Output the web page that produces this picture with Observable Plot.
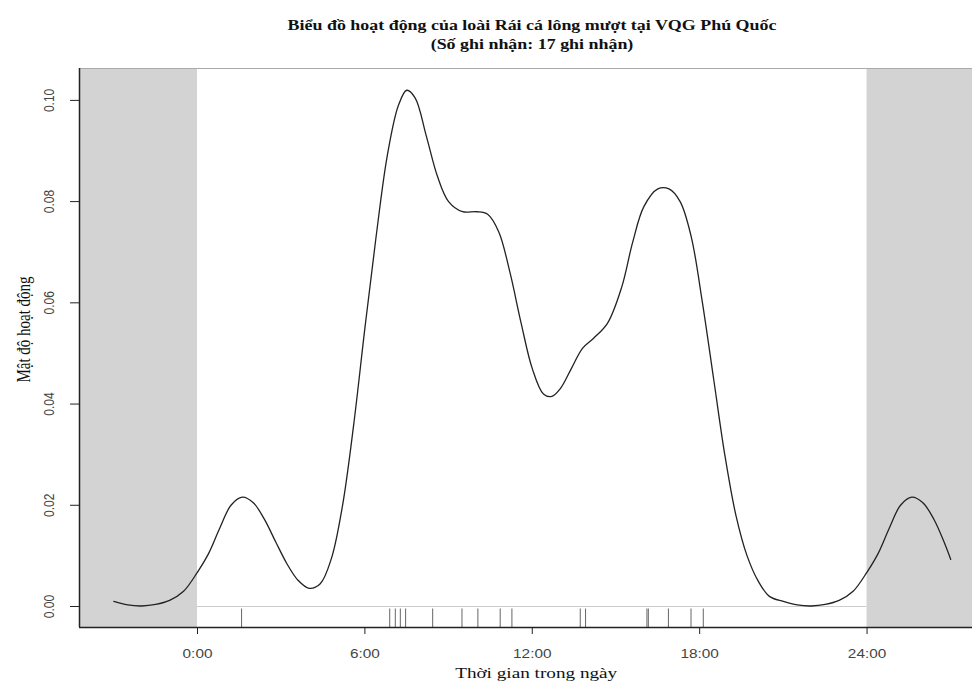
<!DOCTYPE html>
<html>
<head>
<meta charset="utf-8">
<script src="https://cdn.jsdelivr.net/npm/d3@7"></script>
<script src="https://cdn.jsdelivr.net/npm/@observablehq/plot@0.6"></script>
<style>
  html, body { margin: 0; padding: 0; background: #fff; }
  #title { position: relative; width: 972px; height: 50px; font-family: "Liberation Serif", "DejaVu Serif", serif;
           font-size: 14px; font-weight: bold; color: #111; }
  #title div { position: absolute; left: 532px; white-space: nowrap; transform: translate(-50%, -50%) scaleX(1.28); }
</style>
</head>
<body>
<div id="title"><div style="top:26px">Biểu đồ hoạt động của loài Rái cá lông mượt tại VQG Phú Quốc</div><div style="top:45px">(Số ghi nhận: 17 ghi nhận)</div></div>
<div id="chart"></div>
<script>
// Density curve (hour of day, activity density)
const hours = [-3, -2.5, -2, -1.5, -1, -0.5, 0, 0.4, 0.8, 1.2, 1.6, 2.0, 2.4, 2.8, 3.2, 3.6, 4.0, 4.4, 4.8, 5.2, 5.6, 6.0, 6.4, 6.8, 7.2, 7.5, 7.8, 8.2, 8.6, 9.0, 9.5, 10.0, 10.4, 10.8, 11.2, 11.6, 12.0, 12.4, 12.7, 13.0, 13.4, 13.8, 14.2, 14.7, 15.2, 15.6, 16.0, 16.5, 16.9, 17.3, 17.7, 18.1, 18.5, 18.9, 19.3, 19.7, 20.1, 20.5, 21.0, 21.5, 22.0, 22.5, 23.0, 23.5, 24.0, 24.4, 24.8, 25.2, 25.6, 26.0, 26.4, 26.8, 27.0];
const density = [0.0010, 0.0003, 0.0001, 0.0004, 0.0012, 0.0030, 0.0068, 0.0105, 0.0155, 0.0200, 0.0216, 0.0205, 0.0172, 0.0128, 0.0085, 0.0052, 0.0036, 0.0045, 0.0095, 0.0200, 0.0360, 0.0550, 0.0730, 0.0890, 0.0990, 0.1020, 0.1005, 0.0930, 0.0850, 0.0800, 0.0780, 0.0780, 0.0775, 0.0740, 0.0660, 0.0560, 0.0470, 0.0420, 0.0415, 0.0430, 0.0470, 0.0510, 0.0530, 0.0560, 0.0630, 0.0720, 0.0790, 0.0825, 0.0825, 0.0800, 0.0730, 0.0600, 0.0450, 0.0300, 0.0180, 0.0100, 0.0050, 0.0020, 0.0010, 0.0003, 0.0001, 0.0004, 0.0012, 0.0030, 0.0068, 0.0105, 0.0155, 0.0200, 0.0216, 0.0205, 0.0172, 0.0122, 0.0093];
// Detection times (rug)
const rugHours = [1.58, 6.89, 7.09, 7.27, 7.46, 8.43, 9.48, 10.05, 10.85, 11.27, 13.72, 13.91, 16.11, 16.16, 16.88, 17.69, 18.13];
// Ticks
const xTicks = [0, 6, 12, 18, 24];
const xTickLabels = ["0:00", "6:00", "12:00", "18:00", "24:00"];
const yTicks = [0, 0.02, 0.04, 0.06, 0.08, 0.10];
const yTickLabels = ["0.00", "0.02", "0.04", "0.06", "0.08", "0.10"];
// Night shading intervals
const nightStart = [-4.23, 24];
const nightEnd = [0, 27.78];

const curve = hours.map((h, i) => ({h, d: density[i]}));
const night = nightStart.map((s, i) => ({x1: s, x2: nightEnd[i]}));
const X0 = -4.23, X1 = 27.78, Y0 = -0.00415, Y1 = 0.1063;

const chart = Plot.plot({
  width: 972,
  height: 641,
  marginLeft: 79,
  marginRight: 0,
  marginTop: 18,
  marginBottom: 64,
  style: {fontFamily: "'Liberation Sans', Arial, sans-serif", background: "#fff"},
  x: {domain: [X0, X1]},
  y: {domain: [Y0, Y1]},
  marks: [
    Plot.rect(night, {x1: "x1", x2: "x2", fill: "#d3d3d3"}),
    Plot.ruleY([0], {x1: 0, x2: 24, stroke: "#cccccc", strokeWidth: 1}),
    Plot.ruleX(rugHours, {y1: Y0, y2: -0.0005, stroke: "#666", strokeWidth: 1}),
    Plot.line(curve, {x: "h", y: "d", stroke: "#222", strokeWidth: 1.3, curve: "catmull-rom"}),
    Plot.ruleY([Y1], {stroke: "#aaa", strokeWidth: 1}),
    Plot.ruleY([Y0], {stroke: "#222", strokeWidth: 1.5}),
    Plot.ruleX([X0], {stroke: "#222", strokeWidth: 1.5}),
    Plot.axisX(xTicks, {tickSize: 7, tickPadding: 15, fontSize: 12, fill: "#444", stroke: "#222",
      tickFormat: d => xTickLabels[xTicks.indexOf(d)], label: null}),
    Plot.axisY(yTicks, {tickSize: 9, tickFormat: () => "", stroke: "#222", label: null}),
    Plot.text(yTicks, {y: d => d, frameAnchor: "left", dx: -30, rotate: -90, textAnchor: "middle",
      text: d => yTickLabels[yTicks.indexOf(d)], fontSize: 12, fill: "#444"}),
    Plot.text(["Thời gian trong ngày"], {frameAnchor: "bottom", dy: 50, x: 12.14, text: d => d, textAnchor: "middle",
      fontFamily: "'Liberation Serif', serif", fontSize: 15, fill: "#111"}),
    Plot.text(["Mật độ hoạt động"], {frameAnchor: "left", dx: -56, dy: -18.5, rotate: -90, text: d => d, textAnchor: "middle",
      fontFamily: "'Liberation Serif', serif", fontSize: 15, fill: "#111"})
  ]
});

// The reference picture is stretched horizontally; stretch glyphs the same way
const S = 1.28;
chart.querySelectorAll("text").forEach(t => {
  const tr = t.getAttribute("transform");
  if (tr && tr.includes("rotate")) {
    t.setAttribute("transform", tr + ` scale(1,${S})`);
  } else if (tr) {
    t.setAttribute("transform", tr + ` scale(${S},1)`);
  } else {
    const x = +(t.getAttribute("x") || 0), y = +(t.getAttribute("y") || 0);
    t.setAttribute("transform", `translate(${x},${y}) scale(${S},1) translate(${-x},${-y})`);
  }
});
document.getElementById("chart").appendChild(chart);
</script>
</body>
</html>
